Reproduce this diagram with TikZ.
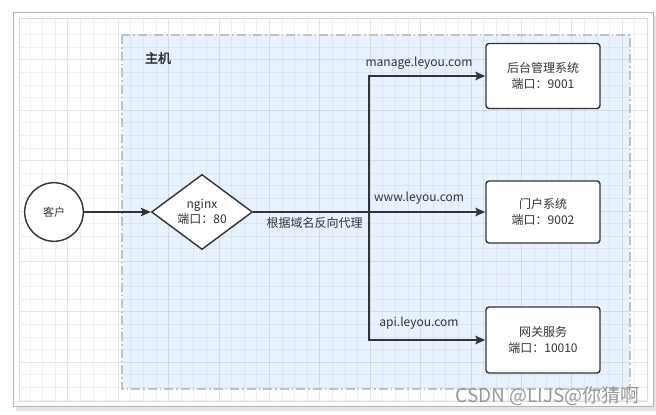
\documentclass[tikz,border=0pt]{standalone}
\usepackage{fontspec}
\setmainfont{Noto Sans CJK SC}
\newfontfamily\cjkbold[FakeBold=2.5]{Noto Sans CJK SC}
\usetikzlibrary{shapes.geometric,arrows.meta}
\definecolor{ink}{HTML}{333333}
\definecolor{hostfill}{HTML}{E8F2FE}
\definecolor{framegray}{HTML}{B4B4B4}
\begin{document}
\begin{tikzpicture}[x=1pt,y=-1pt,
  txt/.style={font=\fontsize{12}{15.5}\selectfont, text=ink, inner sep=0pt},
  box/.style={draw=ink, line width=1.4pt, rounded corners=3pt, fill=white,
    minimum width=114pt, inner sep=0pt, align=center,
    font=\fontsize{12}{15.5}\selectfont, text=ink},
  conn/.style={draw=ink, line width=1.4pt},
  arr/.style={conn, -{Stealth[length=10pt,width=8.5pt,inset=2pt]}},
  minorgrid/.style={draw=black, draw opacity=0.05, line width=0.8pt},
  majorgrid/.style={draw=black, draw opacity=0.095, line width=0.8pt},
]
\useasboundingbox (0,0) rectangle (656,415);
\fill[white] (0,0) rectangle (656,415);
% shadow and frame
\fill[black!10] (16,16) rectangle (656,411);
\draw[framegray, line width=1.2pt, fill=white] (13.3,12.7) rectangle (653.3,406.7);
% host region fill
\fill[hostfill] (122,35) rectangle (630,389);
% grid
\foreach \k in {-3,...,45}{
  \pgfmathtruncatemacro\m{mod(\k+400,4)}
  \pgfmathsetmacro\xx{67.7+12.6*\k}
  \ifnum\m=0 \draw[majorgrid] (\xx,18.5) -- (\xx,401.5); \else \draw[minorgrid] (\xx,18.5) -- (\xx,401.5); \fi
}
\foreach \k in {-23,...,7}{
  \pgfmathtruncatemacro\m{mod(\k+400,4)}
  \pgfmathsetmacro\yy{311.7+12.6*\k}
  \ifnum\m=0 \draw[majorgrid] (19,\yy) -- (647.5,\yy); \else \draw[minorgrid] (19,\yy) -- (647.5,\yy); \fi
}
\draw[black!14, line width=0.8pt] (19,18.5) rectangle (647.5,401.5);
% host border
\draw[black!24, line width=1.1pt, dash pattern=on 9pt off 3pt on 1.5pt off 3pt] (122,35) rectangle (630,389);
\node[font=\cjkbold\fontsize{13}{13}\selectfont, text=ink, inner sep=0pt] (host) at (158,58) {主机};

% nodes
\node[circle, draw=ink, line width=1.4pt, fill=white, minimum size=58.6pt, inner sep=0pt,
  font=\fontsize{11}{13}\selectfont, text=ink] (client) at (54,212) {客户};
\node[diamond, draw=ink, line width=1.4pt, fill=white, minimum width=101pt, minimum height=68pt,
  inner sep=0pt, align=center, font=\fontsize{12}{15.5}\selectfont, text=ink] (nginx) at (202,212) {nginx\\端口：80};
\node[box, minimum height=65pt] (box1) at (543,76) {后台管理系统\\端口：9001};
\node[box, minimum height=62pt] (box2) at (543,212) {门户系统\\端口：9002};
\node[box, minimum height=66pt] (box3) at (543,340) {网关服务\\端口：10010};

\coordinate (fork) at (369,212);

% connectors
\draw[arr] (client) -- (nginx);
\draw[arr] (nginx) -- (box2);
\draw[arr] (fork) |- (box1);
\draw[arr] (fork) |- (box3);

% labels
\node[txt] (l1) at (419,63) {manage.leyou.com};
\node[txt] (l2) at (419,198) {www.leyou.com};
\node[txt] (l3) at (419,323.5) {api.leyou.com};
\node[txt] (l4) at (314.7,222.5) {根据域名反向代理};

% watermark
\node[font=\fontsize{19}{19}\selectfont, text=black!40, inner sep=0pt, anchor=east] (wm) at (640,396) {CSDN @LIJS@你猜啊};
\end{tikzpicture}
\end{document}
